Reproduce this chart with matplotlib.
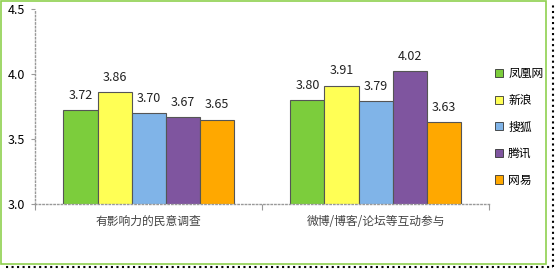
import numpy as np
import matplotlib
matplotlib.use("Agg")
import matplotlib.pyplot as plt
from matplotlib.patches import Rectangle

plt.rcParams['font.family'] = ['Noto Sans CJK SC', 'DejaVu Sans']

categories = ['有影响力的民意调查', '微博/博客/论坛等互动参与']
sites = ['凤凰网', '新浪', '搜狐', '腾讯', '网易']
values = {
    '凤凰网': [3.72, 3.80],
    '新浪': [3.86, 3.91],
    '搜狐': [3.70, 3.79],
    '腾讯': [3.67, 4.02],
    '网易': [3.65, 3.63],
}
colors = ['#7ccd3c', '#ffff55', '#80b4e8', '#7f559f', '#ffa800']

fig = plt.figure(figsize=(5.57, 2.69), dpi=100)
ax = fig.add_axes([0.063, 0.242, 0.815, 0.724])

x = np.arange(len(categories))
w = 0.15
for i, s in enumerate(sites):
    pos = x + (i - 2) * w
    bars = ax.bar(pos, values[s], w, bottom=0, color=colors[i],
                  edgecolor='#555555', linewidth=0.8, label=s, zorder=2)
    for b, v in zip(bars, values[s]):
        ax.annotate(f'{v:.2f}', (b.get_x() + w / 2, v), xytext=(0, 6),
                    textcoords='offset points', ha='center', va='bottom',
                    fontsize=9, color='#222222')

ax.set_ylim(3.0, 4.5)
ax.set_xlim(-0.5, 1.5)
ax.set_yticks([3.0, 3.5, 4.0, 4.5])
ax.set_yticklabels(['3.0', '3.5', '4.0', '4.5'], fontsize=9)
ax.set_xticks([-0.5, 0.5, 1.5])
ax.set_xticklabels([])
ax.set_xticks(x, minor=True)
ax.set_xticklabels(categories, minor=True, fontsize=8.5, color='#444444')
ax.tick_params(axis='x', which='minor', length=0, pad=8)
ax.tick_params(axis='x', which='major', length=4, color='#999999', direction='out')
ax.tick_params(axis='y', length=3, color='#999999', direction='out', pad=4)

for sp in ['top', 'right']:
    ax.spines[sp].set_visible(False)
for sp in ['left', 'bottom']:
    ax.spines[sp].set_color('#999999')
    ax.spines[sp].set_linestyle(':')
    ax.spines[sp].set_linewidth(1.0)

leg = ax.legend(loc='center left', bbox_to_anchor=(0.99, 0.395), frameon=False,
                fontsize=8.5, handlelength=0.7, handleheight=0.7,
                handletextpad=0.4, labelspacing=1.15)
for h in leg.legend_handles:
    h.set_edgecolor('#333333')
    h.set_linewidth(0.6)

# outer border (green frame with dotted shadow)
fig.patches.append(Rectangle((0.002, 0.02), 0.978, 0.975, transform=fig.transFigure,
                             fill=False, edgecolor='#8fd14f', linewidth=1.2))
fig.lines.append(plt.Line2D([0.01, 0.993], [0.007, 0.007], transform=fig.transFigure,
                            color='black', linestyle=':', linewidth=1.5))
fig.lines.append(plt.Line2D([0.993, 0.993], [0.007, 0.985], transform=fig.transFigure,
                            color='black', linestyle=':', linewidth=1.5))

fig.savefig('out.png', dpi=100)
